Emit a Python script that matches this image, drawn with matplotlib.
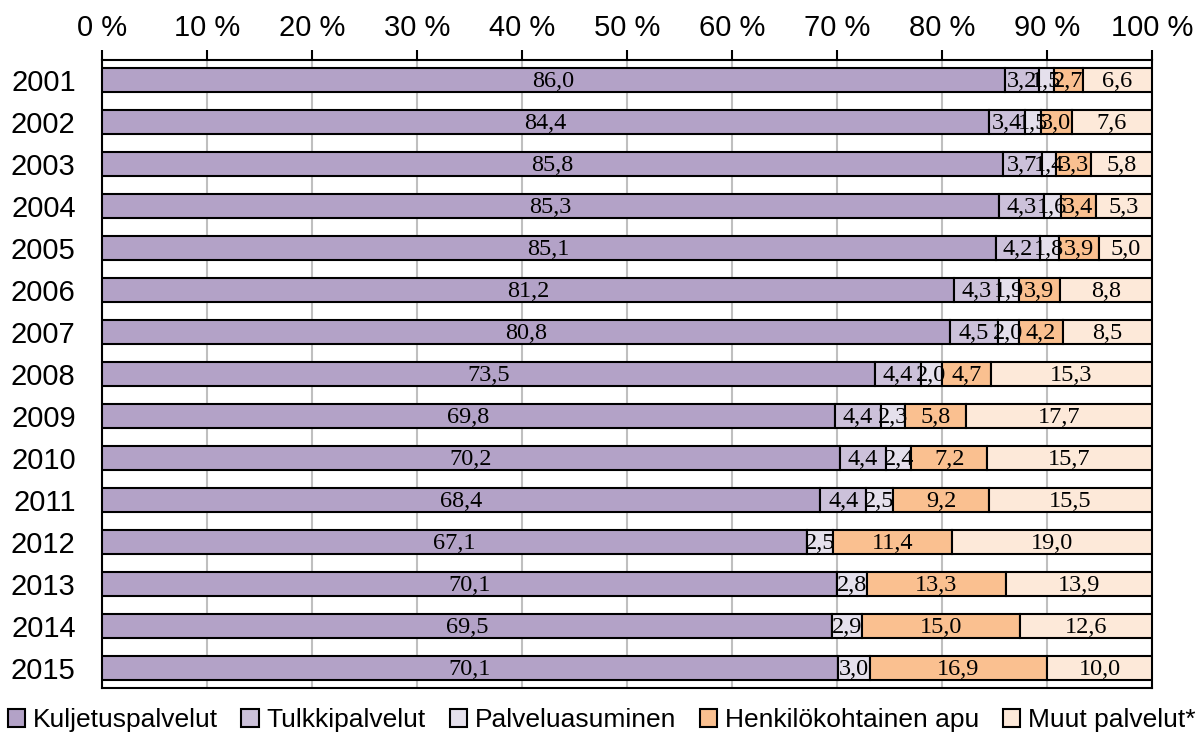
import numpy as np
import matplotlib.pyplot as plt

years = ['2001', '2002', '2003', '2004', '2005', '2006', '2007', '2008',
         '2009', '2010', '2011', '2012', '2013', '2014', '2015']
kuljetus = [86.0, 84.4, 85.8, 85.3, 85.1, 81.2, 80.8, 73.5, 69.8, 70.2, 68.4, 67.1, 70.1, 69.5, 70.1]
tulkki = [3.2, 3.4, 3.7, 4.3, 4.2, 4.3, 4.5, 4.4, 4.4, 4.4, 4.4, 0, 0, 0, 0]
asuminen = [1.5, 1.5, 1.4, 1.6, 1.8, 1.9, 2.0, 2.0, 2.3, 2.4, 2.5, 2.5, 2.8, 2.9, 3.0]
apu = [2.7, 3.0, 3.3, 3.4, 3.9, 3.9, 4.2, 4.7, 5.8, 7.2, 9.2, 11.4, 13.3, 15.0, 16.9]
muut = [6.6, 7.6, 5.8, 5.3, 5.0, 8.8, 8.5, 15.3, 17.7, 15.7, 15.5, 19.0, 13.9, 12.6, 10.0]

series = [kuljetus, tulkki, asuminen, apu, muut]
names = ['Kuljetuspalvelut', 'Tulkkipalvelut', 'Palveluasuminen', 'Henkilökohtainen apu', 'Muut palvelut*']
colors = ['#b3a2c7', '#ccc1da', '#e5e0ec', '#fac090', '#fde9d9']

data = np.array(series)
pct = data / data.sum(axis=0) * 100

fig = plt.figure(figsize=(12.03, 7.47), dpi=100)
ax = fig.add_axes([0.0848, 0.079, 0.8728, 0.8407])

y = np.arange(len(years))
left = np.zeros(len(years))
for vals, p, name, col in zip(data, pct, names, colors):
    ax.barh(y, p, left=left, height=0.57, color=col, edgecolor='black',
            linewidth=1.5, label=name, zorder=3)
    for i in range(len(years)):
        if vals[i] > 0:
            ax.text(left[i] + p[i] / 2, y[i] + 0.04, f'{vals[i]:.1f}'.replace('.', ','),
                    ha='center', va='center', fontsize=17.5,
                    family='Liberation Serif', zorder=4)
    left += p

ax.set_xlim(0, 100)
ax.set_ylim(len(years) - 0.52, -0.48)
ax.set_xticks(np.arange(0, 101, 10))
ax.set_xticklabels([f'{v} %' for v in range(0, 101, 10)])
ax.xaxis.tick_top()
ax.tick_params(axis='x', length=7, width=1.5, pad=6, labelsize=21)
ax.set_yticks(y)
ax.set_yticklabels(years)
ax.tick_params(axis='y', length=0, pad=19, labelsize=21)
for lab in ax.get_xticklabels() + ax.get_yticklabels():
    lab.set_family('Liberation Sans')
ax.grid(axis='x', color='#bfbfbf', linewidth=1.5, zorder=0)
for s in ax.spines.values():
    s.set_linewidth(1.5)
    s.set_color('black')

fig.legend(loc='lower center', bbox_to_anchor=(0.5, -0.012), ncol=5, frameon=False,
           handlelength=0.65, handleheight=0.65, handletextpad=0.3, columnspacing=0.9,
           prop={'family': 'Liberation Sans', 'size': 19})

fig.savefig('out.png', dpi=100)
